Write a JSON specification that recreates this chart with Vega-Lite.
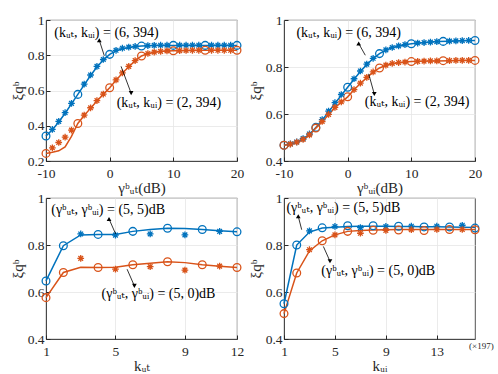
{
  "$schema": "https://vega.github.io/schema/vega-lite/v6.json",
  "background": "white",
  "padding": {"left": 9, "top": 12, "right": 0, "bottom": 0},
  "config": {
    "font": "Liberation Serif, DejaVu Serif, serif",
    "view": {"stroke": "#262626", "strokeWidth": 0.8},
    "axis": {
      "labelFont": "Liberation Serif, DejaVu Serif, serif",
      "titleFont": "Liberation Serif, DejaVu Serif, serif",
      "labelFontSize": 13.5, "labelColor": "#262626",
      "titleFontSize": 15, "titleFontWeight": "normal", "titleColor": "#262626",
      "gridColor": "#e6e6e6", "gridWidth": 0.8,
      "domainColor": "#262626", "domainWidth": 0.8,
      "tickColor": "#262626", "tickSize": -4, "labelPadding": 6, "titlePadding": 2,
      "labelOverlap": false, "labelFlush": false, "tickCount": 12
    },
    "axisX": {"labelPadding": 9, "titlePadding": 1},
    "text": {"font": "Liberation Serif, DejaVu Serif, serif"}
  },
  "datasets": {
    "d1": [
      {"s":"b","k":"l","x":-10,"y":0.342},{"s":"b","k":"l","x":-9,"y":0.377},{"s":"b","k":"l","x":-8,"y":0.421},{"s":"b","k":"l","x":-7,"y":0.471},{"s":"b","k":"l","x":-6,"y":0.524},{"s":"b","k":"l","x":-5,"y":0.578},{"s":"b","k":"l","x":-4,"y":0.632},{"s":"b","k":"l","x":-3,"y":0.685},{"s":"b","k":"l","x":-2,"y":0.733},{"s":"b","k":"l","x":-1,"y":0.773},{"s":"b","k":"l","x":0,"y":0.805},{"s":"b","k":"l","x":1,"y":0.825},{"s":"b","k":"l","x":2,"y":0.837},{"s":"b","k":"l","x":3,"y":0.843},{"s":"b","k":"l","x":4,"y":0.849},{"s":"b","k":"l","x":5,"y":0.852},{"s":"b","k":"l","x":6,"y":0.854},{"s":"b","k":"l","x":7,"y":0.855},{"s":"b","k":"l","x":8,"y":0.856},{"s":"b","k":"l","x":10,"y":0.856},{"s":"b","k":"l","x":15,"y":0.856},{"s":"b","k":"l","x":20,"y":0.856},
      {"s":"o","k":"l","x":-10,"y":0.243},{"s":"o","k":"l","x":-9,"y":0.25},{"s":"o","k":"l","x":-8,"y":0.258},{"s":"o","k":"l","x":-7,"y":0.28},{"s":"o","k":"l","x":-6,"y":0.34},{"s":"o","k":"l","x":-5,"y":0.413},{"s":"o","k":"l","x":-4,"y":0.458},{"s":"o","k":"l","x":-3,"y":0.5},{"s":"o","k":"l","x":-2,"y":0.54},{"s":"o","k":"l","x":-1,"y":0.578},{"s":"o","k":"l","x":0,"y":0.616},{"s":"o","k":"l","x":1,"y":0.658},{"s":"o","k":"l","x":2,"y":0.698},{"s":"o","k":"l","x":3,"y":0.735},{"s":"o","k":"l","x":4,"y":0.768},{"s":"o","k":"l","x":5,"y":0.796},{"s":"o","k":"l","x":6,"y":0.809},{"s":"o","k":"l","x":7,"y":0.817},{"s":"o","k":"l","x":8,"y":0.821},{"s":"o","k":"l","x":9,"y":0.824},{"s":"o","k":"l","x":10,"y":0.825},{"s":"o","k":"l","x":12,"y":0.827},{"s":"o","k":"l","x":15,"y":0.828},{"s":"o","k":"l","x":20,"y":0.828},
      {"s":"b","k":"c","x":-10,"y":0.342},{"s":"b","k":"c","x":-5,"y":0.578},{"s":"b","k":"c","x":0,"y":0.805},{"s":"b","k":"c","x":5,"y":0.852},{"s":"b","k":"c","x":10,"y":0.856},{"s":"b","k":"c","x":15,"y":0.856},{"s":"b","k":"c","x":20,"y":0.856},
      {"s":"o","k":"c","x":-10,"y":0.243},{"s":"o","k":"c","x":-5,"y":0.413},{"s":"o","k":"c","x":0,"y":0.616},{"s":"o","k":"c","x":5,"y":0.796},{"s":"o","k":"c","x":10,"y":0.825},{"s":"o","k":"c","x":15,"y":0.828},{"s":"o","k":"c","x":20,"y":0.828},
      {"s":"b","k":"s","x":-9,"y":0.379},{"s":"b","k":"s","x":-8,"y":0.425},{"s":"b","k":"s","x":-7,"y":0.474},{"s":"b","k":"s","x":-6,"y":0.527},{"s":"b","k":"s","x":-4,"y":0.636},{"s":"b","k":"s","x":-3,"y":0.688},{"s":"b","k":"s","x":-2,"y":0.737},{"s":"b","k":"s","x":-1,"y":0.776},{"s":"b","k":"s","x":1,"y":0.828},{"s":"b","k":"s","x":2,"y":0.84},{"s":"b","k":"s","x":3,"y":0.846},{"s":"b","k":"s","x":4,"y":0.85},{"s":"b","k":"s","x":6,"y":0.855},{"s":"b","k":"s","x":7,"y":0.856},{"s":"b","k":"s","x":8,"y":0.857},{"s":"b","k":"s","x":9,"y":0.857},{"s":"b","k":"s","x":11,"y":0.857},{"s":"b","k":"s","x":12,"y":0.857},{"s":"b","k":"s","x":13,"y":0.857},{"s":"b","k":"s","x":14,"y":0.857},{"s":"b","k":"s","x":16,"y":0.857},{"s":"b","k":"s","x":17,"y":0.857},{"s":"b","k":"s","x":18,"y":0.857},{"s":"b","k":"s","x":19,"y":0.857},
      {"s":"o","k":"s","x":-9,"y":0.275},{"s":"o","k":"s","x":-8,"y":0.305},{"s":"o","k":"s","x":-7,"y":0.335},{"s":"o","k":"s","x":-6,"y":0.375},{"s":"o","k":"s","x":-4,"y":0.46},{"s":"o","k":"s","x":-3,"y":0.502},{"s":"o","k":"s","x":-2,"y":0.543},{"s":"o","k":"s","x":-1,"y":0.58},{"s":"o","k":"s","x":1,"y":0.66},{"s":"o","k":"s","x":2,"y":0.7},{"s":"o","k":"s","x":3,"y":0.737},{"s":"o","k":"s","x":4,"y":0.77},{"s":"o","k":"s","x":6,"y":0.81},{"s":"o","k":"s","x":7,"y":0.818},{"s":"o","k":"s","x":8,"y":0.822},{"s":"o","k":"s","x":9,"y":0.825},{"s":"o","k":"s","x":11,"y":0.826},{"s":"o","k":"s","x":12,"y":0.827},{"s":"o","k":"s","x":13,"y":0.828},{"s":"o","k":"s","x":14,"y":0.828},{"s":"o","k":"s","x":16,"y":0.828},{"s":"o","k":"s","x":17,"y":0.828},{"s":"o","k":"s","x":18,"y":0.828},{"s":"o","k":"s","x":19,"y":0.828}
    ],
    "d2": [
      {"s":"b","k":"l","x":-10,"y":0.467},{"s":"b","k":"l","x":-9,"y":0.472},{"s":"b","k":"l","x":-8,"y":0.48},{"s":"b","k":"l","x":-7,"y":0.493},{"s":"b","k":"l","x":-6,"y":0.513},{"s":"b","k":"l","x":-5,"y":0.543},{"s":"b","k":"l","x":-4,"y":0.574},{"s":"b","k":"l","x":-3,"y":0.609},{"s":"b","k":"l","x":-2,"y":0.645},{"s":"b","k":"l","x":-1,"y":0.68},{"s":"b","k":"l","x":0,"y":0.714},{"s":"b","k":"l","x":1,"y":0.748},{"s":"b","k":"l","x":2,"y":0.781},{"s":"b","k":"l","x":3,"y":0.81},{"s":"b","k":"l","x":4,"y":0.836},{"s":"b","k":"l","x":5,"y":0.857},{"s":"b","k":"l","x":6,"y":0.872},{"s":"b","k":"l","x":7,"y":0.882},{"s":"b","k":"l","x":8,"y":0.889},{"s":"b","k":"l","x":9,"y":0.895},{"s":"b","k":"l","x":10,"y":0.899},{"s":"b","k":"l","x":12,"y":0.904},{"s":"b","k":"l","x":14,"y":0.908},{"s":"b","k":"l","x":16,"y":0.91},{"s":"b","k":"l","x":18,"y":0.912},{"s":"b","k":"l","x":20,"y":0.913},
      {"s":"o","k":"l","x":-10,"y":0.467},{"s":"o","k":"l","x":-9,"y":0.471},{"s":"o","k":"l","x":-8,"y":0.479},{"s":"o","k":"l","x":-7,"y":0.491},{"s":"o","k":"l","x":-6,"y":0.51},{"s":"o","k":"l","x":-5,"y":0.54},{"s":"o","k":"l","x":-4,"y":0.567},{"s":"o","k":"l","x":-3,"y":0.597},{"s":"o","k":"l","x":-2,"y":0.627},{"s":"o","k":"l","x":-1,"y":0.65},{"s":"o","k":"l","x":0,"y":0.673},{"s":"o","k":"l","x":1,"y":0.703},{"s":"o","k":"l","x":2,"y":0.73},{"s":"o","k":"l","x":3,"y":0.755},{"s":"o","k":"l","x":4,"y":0.778},{"s":"o","k":"l","x":5,"y":0.796},{"s":"o","k":"l","x":6,"y":0.807},{"s":"o","k":"l","x":7,"y":0.814},{"s":"o","k":"l","x":8,"y":0.818},{"s":"o","k":"l","x":9,"y":0.821},{"s":"o","k":"l","x":10,"y":0.823},{"s":"o","k":"l","x":12,"y":0.825},{"s":"o","k":"l","x":14,"y":0.826},{"s":"o","k":"l","x":16,"y":0.827},{"s":"o","k":"l","x":18,"y":0.828},{"s":"o","k":"l","x":20,"y":0.828},
      {"s":"b","k":"c","x":-10,"y":0.467},{"s":"b","k":"c","x":-5,"y":0.543},{"s":"b","k":"c","x":0,"y":0.714},{"s":"b","k":"c","x":5,"y":0.857},{"s":"b","k":"c","x":10,"y":0.899},{"s":"b","k":"c","x":15,"y":0.909},{"s":"b","k":"c","x":20,"y":0.913},
      {"s":"o","k":"c","x":-10,"y":0.467},{"s":"o","k":"c","x":-5,"y":0.54},{"s":"o","k":"c","x":0,"y":0.673},{"s":"o","k":"c","x":5,"y":0.796},{"s":"o","k":"c","x":10,"y":0.823},{"s":"o","k":"c","x":15,"y":0.827},{"s":"o","k":"c","x":20,"y":0.828},
      {"s":"b","k":"s","x":-9,"y":0.473},{"s":"b","k":"s","x":-8,"y":0.481},{"s":"b","k":"s","x":-7,"y":0.495},{"s":"b","k":"s","x":-6,"y":0.515},{"s":"b","k":"s","x":-4,"y":0.576},{"s":"b","k":"s","x":-3,"y":0.612},{"s":"b","k":"s","x":-2,"y":0.648},{"s":"b","k":"s","x":-1,"y":0.683},{"s":"b","k":"s","x":1,"y":0.75},{"s":"b","k":"s","x":2,"y":0.783},{"s":"b","k":"s","x":3,"y":0.812},{"s":"b","k":"s","x":4,"y":0.837},{"s":"b","k":"s","x":6,"y":0.873},{"s":"b","k":"s","x":7,"y":0.883},{"s":"b","k":"s","x":8,"y":0.89},{"s":"b","k":"s","x":9,"y":0.895},{"s":"b","k":"s","x":11,"y":0.902},{"s":"b","k":"s","x":12,"y":0.904},{"s":"b","k":"s","x":13,"y":0.906},{"s":"b","k":"s","x":14,"y":0.908},{"s":"b","k":"s","x":16,"y":0.91},{"s":"b","k":"s","x":17,"y":0.911},{"s":"b","k":"s","x":18,"y":0.912},{"s":"b","k":"s","x":19,"y":0.913},
      {"s":"o","k":"s","x":-9,"y":0.472},{"s":"o","k":"s","x":-8,"y":0.48},{"s":"o","k":"s","x":-7,"y":0.492},{"s":"o","k":"s","x":-6,"y":0.511},{"s":"o","k":"s","x":-4,"y":0.568},{"s":"o","k":"s","x":-3,"y":0.598},{"s":"o","k":"s","x":-2,"y":0.628},{"s":"o","k":"s","x":-1,"y":0.652},{"s":"o","k":"s","x":1,"y":0.704},{"s":"o","k":"s","x":2,"y":0.731},{"s":"o","k":"s","x":3,"y":0.756},{"s":"o","k":"s","x":4,"y":0.779},{"s":"o","k":"s","x":6,"y":0.808},{"s":"o","k":"s","x":7,"y":0.815},{"s":"o","k":"s","x":8,"y":0.819},{"s":"o","k":"s","x":9,"y":0.821},{"s":"o","k":"s","x":11,"y":0.824},{"s":"o","k":"s","x":12,"y":0.825},{"s":"o","k":"s","x":13,"y":0.826},{"s":"o","k":"s","x":14,"y":0.826},{"s":"o","k":"s","x":16,"y":0.827},{"s":"o","k":"s","x":17,"y":0.828},{"s":"o","k":"s","x":18,"y":0.828},{"s":"o","k":"s","x":19,"y":0.828}
    ],
    "d3": [
      {"s":"b","k":"l","x":1,"y":0.647},{"s":"b","k":"l","x":2,"y":0.797},{"s":"b","k":"l","x":3,"y":0.843},{"s":"b","k":"l","x":4,"y":0.845},{"s":"b","k":"l","x":5,"y":0.845},{"s":"b","k":"l","x":6,"y":0.858},{"s":"b","k":"l","x":7,"y":0.866},{"s":"b","k":"l","x":8,"y":0.871},{"s":"b","k":"l","x":9,"y":0.87},{"s":"b","k":"l","x":10,"y":0.866},{"s":"b","k":"l","x":11,"y":0.861},{"s":"b","k":"l","x":12,"y":0.856},
      {"s":"o","k":"l","x":1,"y":0.576},{"s":"o","k":"l","x":2,"y":0.683},{"s":"o","k":"l","x":3,"y":0.705},{"s":"o","k":"l","x":4,"y":0.704},{"s":"o","k":"l","x":5,"y":0.705},{"s":"o","k":"l","x":6,"y":0.716},{"s":"o","k":"l","x":7,"y":0.722},{"s":"o","k":"l","x":8,"y":0.729},{"s":"o","k":"l","x":9,"y":0.725},{"s":"o","k":"l","x":10,"y":0.716},{"s":"o","k":"l","x":11,"y":0.71},{"s":"o","k":"l","x":12,"y":0.704},
      {"s":"b","k":"c","x":1,"y":0.647},{"s":"b","k":"c","x":2,"y":0.797},{"s":"b","k":"c","x":4,"y":0.845},{"s":"b","k":"c","x":6,"y":0.858},{"s":"b","k":"c","x":8,"y":0.871},{"s":"b","k":"c","x":10,"y":0.866},{"s":"b","k":"c","x":12,"y":0.856},
      {"s":"o","k":"c","x":1,"y":0.576},{"s":"o","k":"c","x":2,"y":0.683},{"s":"o","k":"c","x":4,"y":0.704},{"s":"o","k":"c","x":6,"y":0.716},{"s":"o","k":"c","x":8,"y":0.729},{"s":"o","k":"c","x":10,"y":0.716},{"s":"o","k":"c","x":12,"y":0.704},
      {"s":"b","k":"s","x":3,"y":0.847},{"s":"b","k":"s","x":5,"y":0.842},{"s":"b","k":"s","x":7,"y":0.847},{"s":"b","k":"s","x":9,"y":0.843},{"s":"b","k":"s","x":11,"y":0.858},
      {"s":"o","k":"s","x":3,"y":0.743},{"s":"o","k":"s","x":5,"y":0.697},{"s":"o","k":"s","x":7,"y":0.708},{"s":"o","k":"s","x":9,"y":0.693},{"s":"o","k":"s","x":11,"y":0.71}
    ],
    "d4": [
      {"s":"b","k":"l","x":1,"y":0.55},{"s":"b","k":"l","x":2,"y":0.8},{"s":"b","k":"l","x":3,"y":0.855},{"s":"b","k":"l","x":4,"y":0.872},{"s":"b","k":"l","x":5,"y":0.876},{"s":"b","k":"l","x":6,"y":0.879},{"s":"b","k":"l","x":7,"y":0.88},{"s":"b","k":"l","x":8,"y":0.88},{"s":"b","k":"l","x":9,"y":0.88},{"s":"b","k":"l","x":10,"y":0.879},{"s":"b","k":"l","x":11,"y":0.879},{"s":"b","k":"l","x":12,"y":0.878},{"s":"b","k":"l","x":13,"y":0.878},{"s":"b","k":"l","x":14,"y":0.877},{"s":"b","k":"l","x":15,"y":0.876},{"s":"b","k":"l","x":16,"y":0.875},
      {"s":"o","k":"l","x":1,"y":0.508},{"s":"o","k":"l","x":2,"y":0.681},{"s":"o","k":"l","x":3,"y":0.775},{"s":"o","k":"l","x":4,"y":0.818},{"s":"o","k":"l","x":5,"y":0.843},{"s":"o","k":"l","x":6,"y":0.858},{"s":"o","k":"l","x":7,"y":0.862},{"s":"o","k":"l","x":8,"y":0.864},{"s":"o","k":"l","x":9,"y":0.865},{"s":"o","k":"l","x":10,"y":0.866},{"s":"o","k":"l","x":12,"y":0.866},{"s":"o","k":"l","x":14,"y":0.866},{"s":"o","k":"l","x":16,"y":0.866},
      {"s":"b","k":"c","x":1,"y":0.55},{"s":"b","k":"c","x":2,"y":0.8},{"s":"b","k":"c","x":4,"y":0.873},{"s":"b","k":"c","x":6,"y":0.882},{"s":"b","k":"c","x":8,"y":0.882},{"s":"b","k":"c","x":10,"y":0.88},{"s":"b","k":"c","x":12,"y":0.877},{"s":"b","k":"c","x":14,"y":0.877},{"s":"b","k":"c","x":16,"y":0.872},
      {"s":"o","k":"c","x":1,"y":0.508},{"s":"o","k":"c","x":2,"y":0.681},{"s":"o","k":"c","x":4,"y":0.818},{"s":"o","k":"c","x":6,"y":0.858},{"s":"o","k":"c","x":8,"y":0.863},{"s":"o","k":"c","x":10,"y":0.864},{"s":"o","k":"c","x":12,"y":0.862},{"s":"o","k":"c","x":14,"y":0.866},{"s":"o","k":"c","x":16,"y":0.865},
      {"s":"b","k":"s","x":3,"y":0.86},{"s":"b","k":"s","x":5,"y":0.879},{"s":"b","k":"s","x":7,"y":0.874},{"s":"b","k":"s","x":9,"y":0.879},{"s":"b","k":"s","x":11,"y":0.88},{"s":"b","k":"s","x":13,"y":0.88},{"s":"b","k":"s","x":15,"y":0.884},
      {"s":"o","k":"s","x":3,"y":0.78},{"s":"o","k":"s","x":5,"y":0.843},{"s":"o","k":"s","x":7,"y":0.85},{"s":"o","k":"s","x":9,"y":0.862},{"s":"o","k":"s","x":11,"y":0.865},{"s":"o","k":"s","x":13,"y":0.866},{"s":"o","k":"s","x":15,"y":0.866}
    ],
    "t1": [{"x":-0.5,"y":0.926,"t":"(kᵤₜ, kᵤᵢ) = (6, 394)"},{"x":9.3,"y":0.528,"t":"(kᵤₜ, kᵤᵢ) = (2, 394)"}],
    "r1": [{"x":-0.84,"y":0.797,"x2":-1.63,"y2":0.885,"d":"up"},{"x":1.79,"y":0.737,"x2":3.37,"y2":0.585,"d":"down"}],
    "t2": [{"x":0.16,"y":0.943,"t":"(kᵤₜ, kᵤᵢ) = (6, 394)"},{"x":10.9,"y":0.65,"t":"(kᵤₜ, kᵤᵢ) = (2, 394)"}],
    "r2": [{"x":2.77,"y":0.85,"x2":1.73,"y2":0.9,"d":"up"},{"x":3.3,"y":0.771,"x2":4.18,"y2":0.685,"d":"down"}],
    "t3": [{"x":4.58,"y":0.95,"t":"(γᵇᵤₜ, γᵇᵤᵢ) = (5, 5)dB"},{"x":7.48,"y":0.59,"t":"(γᵇᵤₜ, γᵇᵤᵢ) = (5, 0)dB"}],
    "r3": [{"x":5.01,"y":0.847,"x2":4.63,"y2":0.911,"d":"up"},{"x":5.67,"y":0.697,"x2":6.09,"y2":0.626,"d":"down"}],
    "t4": [{"x":5.66,"y":0.957,"t":"(γᵇᵤₜ, γᵇᵤᵢ) = (5, 5)dB"},{"x":8.4,"y":0.688,"t":"(γᵇᵤₜ, γᵇᵤᵢ) = (5, 0)dB"}],
    "r4": [{"x":2.39,"y":0.865,"x2":2.12,"y2":0.922,"d":"up"},{"x":4.09,"y":0.794,"x2":4.61,"y2":0.731,"d":"down"}]
  },
  "vconcat": [
    {"hconcat": [
      {"width": 191, "height": 141, "layer": [
        {"data": {"name": "d1"}, "transform": [{"filter": "datum.k == 'l'"}], "mark": {"type": "line", "strokeWidth": 1.5},
         "encoding": {
           "x": {"field": "x", "type": "quantitative", "scale": {"domain": [-10, 20], "nice": false, "zero": false}, "axis": {"values": [-10, 0, 10, 20], "tickCount": 12, "labelExpr": "'' + datum.value", "title": "γᵇᵤₜ(dB)", "labelOverlap": false}},
           "y": {"field": "y", "type": "quantitative", "scale": {"domain": [0.2, 1], "nice": false, "zero": false}, "axis": {"values": [0.2, 0.4, 0.6, 0.8, 1], "tickCount": 12, "format": "~g", "title": "ξqᵇ", "labelOverlap": false}},
           "color": {"field": "s", "type": "nominal", "scale": {"domain": ["b", "o"], "range": ["#0072BD", "#D95319"]}, "legend": null}}},
        {"data": {"name": "d1"}, "transform": [{"filter": "datum.k == 'c'"}], "mark": {"type": "point", "shape": "circle", "filled": false, "size": 60, "strokeWidth": 1.3, "opacity": 1},
         "encoding": {"x": {"field": "x", "type": "quantitative"}, "y": {"field": "y", "type": "quantitative"}, "color": {"field": "s", "type": "nominal", "legend": null}}},
        {"data": {"name": "d1"}, "transform": [{"filter": "datum.k == 's'"}], "mark": {"type": "point", "shape": "M-1,0L1,0M0,-1L0,1M-0.7,-0.7L0.7,0.7M-0.7,0.7L0.7,-0.7", "filled": false, "size": 45, "strokeWidth": 1.3, "opacity": 1},
         "encoding": {"x": {"field": "x", "type": "quantitative"}, "y": {"field": "y", "type": "quantitative"}, "color": {"field": "s", "type": "nominal", "legend": null}}},
        {"data": {"name": "t1"}, "mark": {"type": "text", "fontSize": 14, "color": "black", "align": "center", "baseline": "middle"},
         "encoding": {"x": {"field": "x", "type": "quantitative"}, "y": {"field": "y", "type": "quantitative"}, "text": {"field": "t"}}},
        {"data": {"name": "r1"}, "mark": {"type": "rule", "color": "black", "strokeWidth": 0.8},
         "encoding": {"x": {"field": "x", "type": "quantitative"}, "y": {"field": "y", "type": "quantitative"}, "x2": {"field": "x2"}, "y2": {"field": "y2"}}},
        {"data": {"name": "r1"}, "mark": {"type": "point", "filled": true, "color": "black", "size": 22, "opacity": 1},
         "encoding": {"x": {"field": "x2", "type": "quantitative"}, "y": {"field": "y2", "type": "quantitative"}, "shape": {"field": "d", "type": "nominal", "scale": {"domain": ["up", "down"], "range": ["triangle-up", "triangle-down"]}, "legend": null}}}
      ]},
      {"width": 191, "height": 141, "layer": [
        {"data": {"name": "d2"}, "transform": [{"filter": "datum.k == 'l'"}], "mark": {"type": "line", "strokeWidth": 1.5},
         "encoding": {
           "x": {"field": "x", "type": "quantitative", "scale": {"domain": [-10, 20], "nice": false, "zero": false}, "axis": {"values": [-10, 0, 10, 20], "tickCount": 12, "labelExpr": "'' + datum.value", "title": "γᵇᵤᵢ(dB)", "labelOverlap": false}},
           "y": {"field": "y", "type": "quantitative", "scale": {"domain": [0.4, 1], "nice": false, "zero": false}, "axis": {"values": [0.4, 0.6, 0.8, 1], "tickCount": 12, "format": "~g", "title": "ξqᵇ", "labelOverlap": false}},
           "color": {"field": "s", "type": "nominal", "scale": {"domain": ["b", "o"], "range": ["#0072BD", "#D95319"]}, "legend": null}}},
        {"data": {"name": "d2"}, "transform": [{"filter": "datum.k == 'c'"}], "mark": {"type": "point", "shape": "circle", "filled": false, "size": 60, "strokeWidth": 1.3, "opacity": 1},
         "encoding": {"x": {"field": "x", "type": "quantitative"}, "y": {"field": "y", "type": "quantitative"}, "color": {"field": "s", "type": "nominal", "legend": null}}},
        {"data": {"name": "d2"}, "transform": [{"filter": "datum.k == 's'"}], "mark": {"type": "point", "shape": "M-1,0L1,0M0,-1L0,1M-0.7,-0.7L0.7,0.7M-0.7,0.7L0.7,-0.7", "filled": false, "size": 45, "strokeWidth": 1.3, "opacity": 1},
         "encoding": {"x": {"field": "x", "type": "quantitative"}, "y": {"field": "y", "type": "quantitative"}, "color": {"field": "s", "type": "nominal", "legend": null}}},
        {"data": {"name": "t2"}, "mark": {"type": "text", "fontSize": 14, "color": "black", "align": "center", "baseline": "middle"},
         "encoding": {"x": {"field": "x", "type": "quantitative"}, "y": {"field": "y", "type": "quantitative"}, "text": {"field": "t"}}},
        {"data": {"name": "r2"}, "mark": {"type": "rule", "color": "black", "strokeWidth": 0.8},
         "encoding": {"x": {"field": "x", "type": "quantitative"}, "y": {"field": "y", "type": "quantitative"}, "x2": {"field": "x2"}, "y2": {"field": "y2"}}},
        {"data": {"name": "r2"}, "mark": {"type": "point", "filled": true, "color": "black", "size": 22, "opacity": 1},
         "encoding": {"x": {"field": "x2", "type": "quantitative"}, "y": {"field": "y2", "type": "quantitative"}, "shape": {"field": "d", "type": "nominal", "scale": {"domain": ["up", "down"], "range": ["triangle-up", "triangle-down"]}, "legend": null}}}
      ]}
    ], "spacing": 2},
    {"hconcat": [
      {"width": 191, "height": 141, "layer": [
        {"data": {"name": "d3"}, "transform": [{"filter": "datum.k == 'l'"}], "mark": {"type": "line", "strokeWidth": 1.5},
         "encoding": {
           "x": {"field": "x", "type": "quantitative", "scale": {"domain": [1, 12], "nice": false, "zero": false}, "axis": {"values": [1, 5, 9, 12], "tickCount": 12, "title": "kᵤₜ", "labelOverlap": false}},
           "y": {"field": "y", "type": "quantitative", "scale": {"domain": [0.4, 1], "nice": false, "zero": false}, "axis": {"values": [0.4, 0.6, 0.8, 1], "tickCount": 12, "format": "~g", "title": "ξqᵇ", "labelOverlap": false}},
           "color": {"field": "s", "type": "nominal", "scale": {"domain": ["b", "o"], "range": ["#0072BD", "#D95319"]}, "legend": null}}},
        {"data": {"name": "d3"}, "transform": [{"filter": "datum.k == 'c'"}], "mark": {"type": "point", "shape": "circle", "filled": false, "size": 60, "strokeWidth": 1.3, "opacity": 1},
         "encoding": {"x": {"field": "x", "type": "quantitative"}, "y": {"field": "y", "type": "quantitative"}, "color": {"field": "s", "type": "nominal", "legend": null}}},
        {"data": {"name": "d3"}, "transform": [{"filter": "datum.k == 's'"}], "mark": {"type": "point", "shape": "M-1,0L1,0M0,-1L0,1M-0.7,-0.7L0.7,0.7M-0.7,0.7L0.7,-0.7", "filled": false, "size": 45, "strokeWidth": 1.3, "opacity": 1},
         "encoding": {"x": {"field": "x", "type": "quantitative"}, "y": {"field": "y", "type": "quantitative"}, "color": {"field": "s", "type": "nominal", "legend": null}}},
        {"data": {"name": "t3"}, "mark": {"type": "text", "fontSize": 14, "color": "black", "align": "center", "baseline": "middle"},
         "encoding": {"x": {"field": "x", "type": "quantitative"}, "y": {"field": "y", "type": "quantitative"}, "text": {"field": "t"}}},
        {"data": {"name": "r3"}, "mark": {"type": "rule", "color": "black", "strokeWidth": 0.8},
         "encoding": {"x": {"field": "x", "type": "quantitative"}, "y": {"field": "y", "type": "quantitative"}, "x2": {"field": "x2"}, "y2": {"field": "y2"}}},
        {"data": {"name": "r3"}, "mark": {"type": "point", "filled": true, "color": "black", "size": 22, "opacity": 1},
         "encoding": {"x": {"field": "x2", "type": "quantitative"}, "y": {"field": "y2", "type": "quantitative"}, "shape": {"field": "d", "type": "nominal", "scale": {"domain": ["up", "down"], "range": ["triangle-up", "triangle-down"]}, "legend": null}}}
      ]},
      {"width": 191, "height": 141, "layer": [
        {"data": {"name": "d4"}, "transform": [{"filter": "datum.k == 'l'"}], "mark": {"type": "line", "strokeWidth": 1.5},
         "encoding": {
           "x": {"field": "x", "type": "quantitative", "scale": {"domain": [1, 16], "nice": false, "zero": false}, "axis": {"values": [1, 5, 9, 13], "tickCount": 12, "title": "kᵤᵢ", "labelOverlap": false}},
           "y": {"field": "y", "type": "quantitative", "scale": {"domain": [0.4, 1], "nice": false, "zero": false}, "axis": {"values": [0.4, 0.6, 0.8, 1], "tickCount": 12, "format": "~g", "title": "ξqᵇ", "labelOverlap": false}},
           "color": {"field": "s", "type": "nominal", "scale": {"domain": ["b", "o"], "range": ["#0072BD", "#D95319"]}, "legend": null}}},
        {"data": {"name": "d4"}, "transform": [{"filter": "datum.k == 'c'"}], "mark": {"type": "point", "shape": "circle", "filled": false, "size": 60, "strokeWidth": 1.3, "opacity": 1},
         "encoding": {"x": {"field": "x", "type": "quantitative"}, "y": {"field": "y", "type": "quantitative"}, "color": {"field": "s", "type": "nominal", "legend": null}}},
        {"data": {"name": "d4"}, "transform": [{"filter": "datum.k == 's'"}], "mark": {"type": "point", "shape": "M-1,0L1,0M0,-1L0,1M-0.7,-0.7L0.7,0.7M-0.7,0.7L0.7,-0.7", "filled": false, "size": 45, "strokeWidth": 1.3, "opacity": 1},
         "encoding": {"x": {"field": "x", "type": "quantitative"}, "y": {"field": "y", "type": "quantitative"}, "color": {"field": "s", "type": "nominal", "legend": null}}},
        {"data": {"name": "t4"}, "mark": {"type": "text", "fontSize": 14, "color": "black", "align": "center", "baseline": "middle"},
         "encoding": {"x": {"field": "x", "type": "quantitative"}, "y": {"field": "y", "type": "quantitative"}, "text": {"field": "t"}}},
        {"data": {"values": [{"x": 16.5, "y": 0.372, "t": "(×197)"}]}, "mark": {"type": "text", "fontSize": 9, "color": "#262626", "align": "center", "baseline": "middle"},
         "encoding": {"x": {"field": "x", "type": "quantitative"}, "y": {"field": "y", "type": "quantitative"}, "text": {"field": "t"}}},
        {"data": {"name": "r4"}, "mark": {"type": "rule", "color": "black", "strokeWidth": 0.8},
         "encoding": {"x": {"field": "x", "type": "quantitative"}, "y": {"field": "y", "type": "quantitative"}, "x2": {"field": "x2"}, "y2": {"field": "y2"}}},
        {"data": {"name": "r4"}, "mark": {"type": "point", "filled": true, "color": "black", "size": 22, "opacity": 1},
         "encoding": {"x": {"field": "x2", "type": "quantitative"}, "y": {"field": "y2", "type": "quantitative"}, "shape": {"field": "d", "type": "nominal", "scale": {"domain": ["up", "down"], "range": ["triangle-up", "triangle-down"]}, "legend": null}}}
      ]}
    ], "spacing": 2}
  ],
  "spacing": -6
}
